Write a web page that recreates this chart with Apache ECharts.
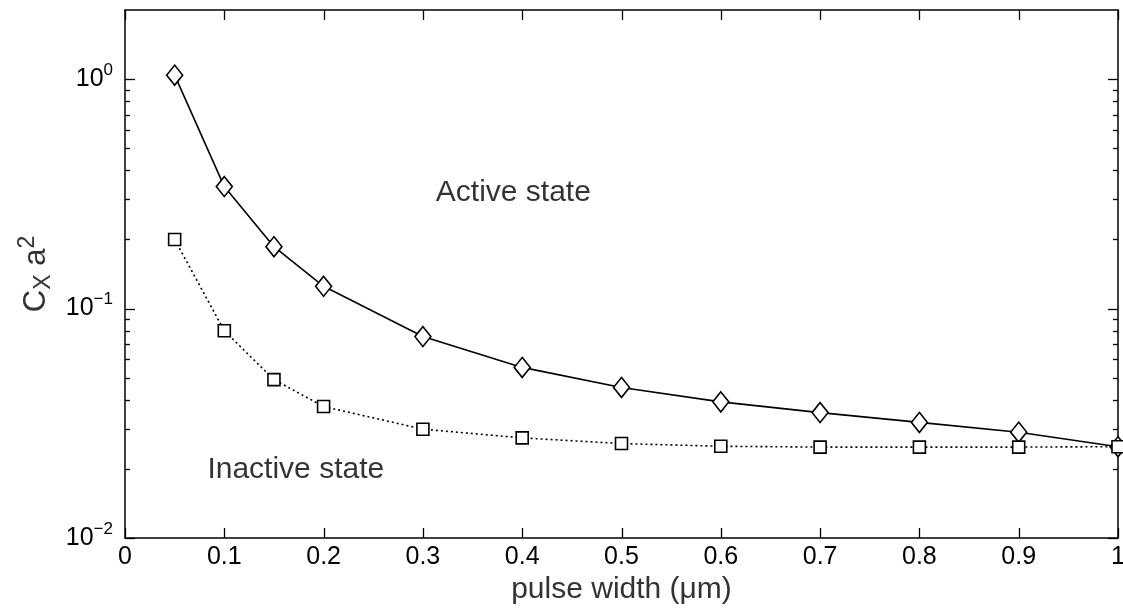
<!DOCTYPE html>
<html>
<head>
<meta charset="utf-8">
<script src="https://cdn.jsdelivr.net/npm/echarts@6/dist/echarts.min.js"></script>
<style>html,body{margin:0;padding:0;background:#fff}#c{width:1123px;height:609px}</style>
</head>
<body>
<div id="c"></div>
<script>
// ---- data ----
const pulseWidth = [0.05, 0.1, 0.15, 0.2, 0.3, 0.4, 0.5, 0.6, 0.7, 0.8, 0.9, 1.0];
const activeState = [1.04, 0.34, 0.186, 0.125, 0.0755, 0.0554, 0.0453, 0.0392, 0.0352, 0.0319, 0.0289, 0.0250];
const inactiveState = [0.200, 0.080, 0.049, 0.0374, 0.0298, 0.0273, 0.0258, 0.0251, 0.0249, 0.0249, 0.0249, 0.0250];
const xTicks = [0, 0.1, 0.2, 0.3, 0.4, 0.5, 0.6, 0.7, 0.8, 0.9, 1];
const yMajorTicks = [0.01, 0.1, 1];
const yMinorTicks = [0.02,0.03,0.04,0.05,0.06,0.07,0.08,0.09,0.2,0.3,0.4,0.5,0.6,0.7,0.8,0.9];

const FONT = '"Liberation Sans", Arial, Helvetica, sans-serif';
const chart = echarts.init(document.getElementById('c'), null, {renderer: 'canvas'});

const pair = (xs, ys) => xs.map((x, i) => [x, ys[i]]);

function yLabel(v) {
  const e = Math.round(Math.log10(v));
  if (Math.abs(Math.log10(v) - e) > 1e-6) return '';
  const s = e < 0 ? '\u2212' + (-e) : String(e);
  return '{b|10}{s|' + s + '}';
}

function mkX(extra) {
  return Object.assign({
    type: 'value', min: 0, max: 1, interval: 0.1,
    axisLine: {show: true, onZero: false, lineStyle: {color: '#000', width: 1.5}},
    axisTick: {show: false},
    splitLine: {show: false}
  }, extra);
}
function mkY(extra) {
  return Object.assign({
    type: 'log', logBase: 10, min: 0.01, max: 2,
    axisLine: {show: true, onZero: false, lineStyle: {color: '#000', width: 1.5}},
    axisTick: {show: false},
    splitLine: {show: false},
    minorTick: {show: false}
  }, extra);
}

const TICK = {stroke: '#000', lineWidth: 1.3};
function hTicks(len) {
  return function (params, api) {
    const p = api.coord([0, api.value(1)]);
    const cs = params.coordSys;
    const y = Math.round(p[1]) + 0.5;
    return {type: 'group', children: [
      {type: 'line', shape: {x1: cs.x, y1: y, x2: cs.x + len, y2: y}, style: TICK},
      {type: 'line', shape: {x1: cs.x + cs.width - len, y1: y, x2: cs.x + cs.width, y2: y}, style: TICK}
    ]};
  };
}
function vTicks(len) {
  return function (params, api) {
    const p = api.coord([api.value(0), 0.1]);
    const cs = params.coordSys;
    const x = Math.round(p[0]) + 0.5;
    return {type: 'group', children: [
      {type: 'line', shape: {x1: x, y1: cs.y + cs.height, x2: x, y2: cs.y + cs.height - len}, style: TICK},
      {type: 'line', shape: {x1: x, y1: cs.y, x2: x, y2: cs.y + len}, style: TICK}
    ]};
  };
}

const option = {
  animation: false,
  backgroundColor: '#fff',
  grid: {left: 125, right: 5, top: 10, bottom: 71, containLabel: false, outerBoundsMode: 'none'},
  xAxis: [
    mkX({
      position: 'bottom',
      name: 'pulse width (\u03bcm)',
      nameLocation: 'middle', nameGap: 27,
      nameTextStyle: {fontFamily: FONT, fontSize: 30, color: '#333'},
      axisLabel: {fontFamily: FONT, fontSize: 25, color: '#000', margin: 7,
        formatter: v => String(Math.round(v * 10) / 10)}
    }),
    mkX({position: 'top', axisLabel: {show: false}})
  ],
  yAxis: [
    mkY({
      position: 'left',
      name: '{c|C}{sub|X}{c| a}{sup|2}',
      nameLocation: 'middle', nameGap: 62, nameRotate: 90,
      nameTextStyle: {
        fontFamily: FONT, color: '#333',
        rich: {
          c: {fontFamily: FONT, fontSize: 31, color: '#333'},
          sub: {fontFamily: FONT, fontSize: 23, color: '#333', padding: [14, 0, 0, 0]},
          sup: {fontFamily: FONT, fontSize: 23, color: '#333', padding: [0, 0, 18, 0]}
        }
      },
      axisLabel: {
        margin: 12, formatter: yLabel, showMaxLabel: false,
        rich: {
          b: {fontFamily: FONT, fontSize: 25, color: '#000'},
          s: {fontFamily: FONT, fontSize: 17, color: '#000', padding: [0, 0, 18, 0]}
        }
      }
    }),
    mkY({position: 'right', axisLabel: {show: false}})
  ],
  series: [
    {
      name: 'Active state', type: 'line', xAxisIndex: 0, yAxisIndex: 0,
      data: pair(pulseWidth, activeState),
      symbol: 'diamond', symbolSize: [16, 20], showAllSymbol: true,
      lineStyle: {color: '#000', width: 1.6, type: 'solid'},
      itemStyle: {color: '#fff', borderColor: '#000', borderWidth: 1.6},
      z: 3
    },
    {
      name: 'Inactive state', type: 'line', xAxisIndex: 0, yAxisIndex: 0,
      data: pair(pulseWidth, inactiveState),
      symbol: 'rect', symbolSize: 12, showAllSymbol: true,
      lineStyle: {color: '#000', width: 1.6, type: [2, 3]},
      itemStyle: {color: '#fff', borderColor: '#000', borderWidth: 1.6},
      z: 4
    },
    {
      name: 'yMinorTicks', type: 'custom', xAxisIndex: 0, yAxisIndex: 0,
      data: yMinorTicks.map(v => [0, v]), silent: true, clip: false,
      renderItem: hTicks(5), z: 1
    },
    {
      name: 'yMajorTicks', type: 'custom', xAxisIndex: 0, yAxisIndex: 0,
      data: yMajorTicks.map(v => [0, v]), silent: true, clip: false,
      renderItem: hTicks(10), z: 1
    },
    {
      name: 'xMajorTicks', type: 'custom', xAxisIndex: 0, yAxisIndex: 0,
      data: xTicks.map(v => [v, 0.1]), silent: true, clip: false,
      renderItem: vTicks(10), z: 1
    },
    {
      name: 'annotations', type: 'scatter', xAxisIndex: 0, yAxisIndex: 0,
      symbolSize: 0, silent: true,
      data: [
        {value: [0.313, 0.32], name: 'Active state'},
        {value: [0.083, 0.0199], name: 'Inactive state'}
      ],
      label: {
        show: true, position: 'right', distance: 0,
        formatter: p => p.name,
        fontFamily: FONT, fontSize: 30, color: '#000'
      },
      z: 5
    }
  ]
};
chart.setOption(option);
</script>
</body>
</html>
